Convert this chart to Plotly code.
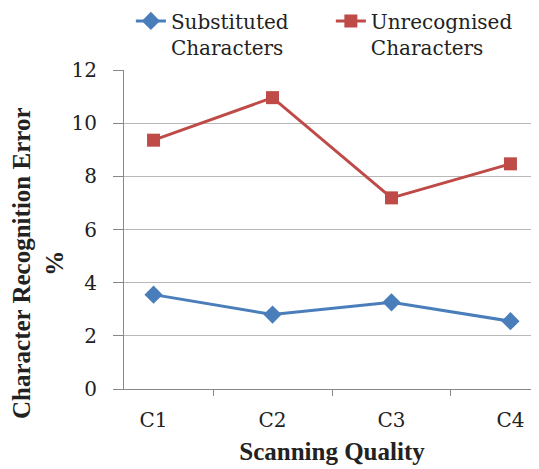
import plotly.graph_objects as go

categories = ["C1", "C2", "C3", "C4"]
substituted = [3.55, 2.80, 3.26, 2.55]
unrecognised = [9.36, 10.96, 7.19, 8.47]
y_ticks = [0, 2, 4, 6, 8, 10, 12]

FONT = "DejaVu Serif"
TFONT = "Liberation Serif"

fig = go.Figure()
fig.add_trace(go.Scatter(
    x=categories, y=substituted, mode="lines+markers",
    name="Substituted<br>Characters",
    line=dict(color="#4A7EBB", width=3),
    marker=dict(symbol="diamond", size=14, color="#4A7EBB"),
    legend="legend",
))
fig.add_trace(go.Scatter(
    x=categories, y=unrecognised, mode="lines+markers",
    name="Unrecognised<br>Characters",
    line=dict(color="#BE4B48", width=3),
    marker=dict(symbol="square", size=13, color="#BE4B48"),
    legend="legend2",
))

legend_style = dict(
    orientation="h", xref="container", yref="paper",
    xanchor="left", yanchor="top", valign="top",
    font=dict(family=FONT, size=20, color="#222222"),
    bgcolor="rgba(0,0,0,0)",
)

fig.update_layout(
    width=539, height=469,
    margin=dict(l=116, r=7, t=62, b=88, autoexpand=False),
    paper_bgcolor="white", plot_bgcolor="white",
    font=dict(family=FONT, size=20, color="#222222"),
    legend=dict(x=0.228, y=1.215, **legend_style),
    legend2=dict(x=0.599, y=1.215, **legend_style),
    showlegend=True,
    annotations=[dict(
        text="<b>Character Recognition Error<br>%</b>",
        xref="paper", yref="paper", x=-0.2067, y=0.395,
        xanchor="center", yanchor="middle", textangle=-90, showarrow=False,
        font=dict(family=TFONT, size=25, color="#222222"),
    )],
)
fig.update_xaxes(
    type="category", showgrid=False, showline=True, linecolor="#888888", linewidth=1,
    ticks="outside", tickson="boundaries", ticklen=6, tickcolor="#888888",
    ticklabelstandoff=13,
    tickfont=dict(family=FONT, size=20),
    title=dict(text="<b>Scanning Quality</b>", font=dict(family=TFONT, size=25), standoff=11),
)
fig.update_yaxes(
    range=[0, 12], tickvals=y_ticks, showgrid=True, gridcolor="#b8b8b8", gridwidth=1,
    showline=True, linecolor="#888888", linewidth=1, zeroline=False,
    ticks="outside", ticklen=10, tickcolor="#888888", ticklabelstandoff=12,
    tickfont=dict(family=FONT, size=20),
)

fig.write_html("out.html")
